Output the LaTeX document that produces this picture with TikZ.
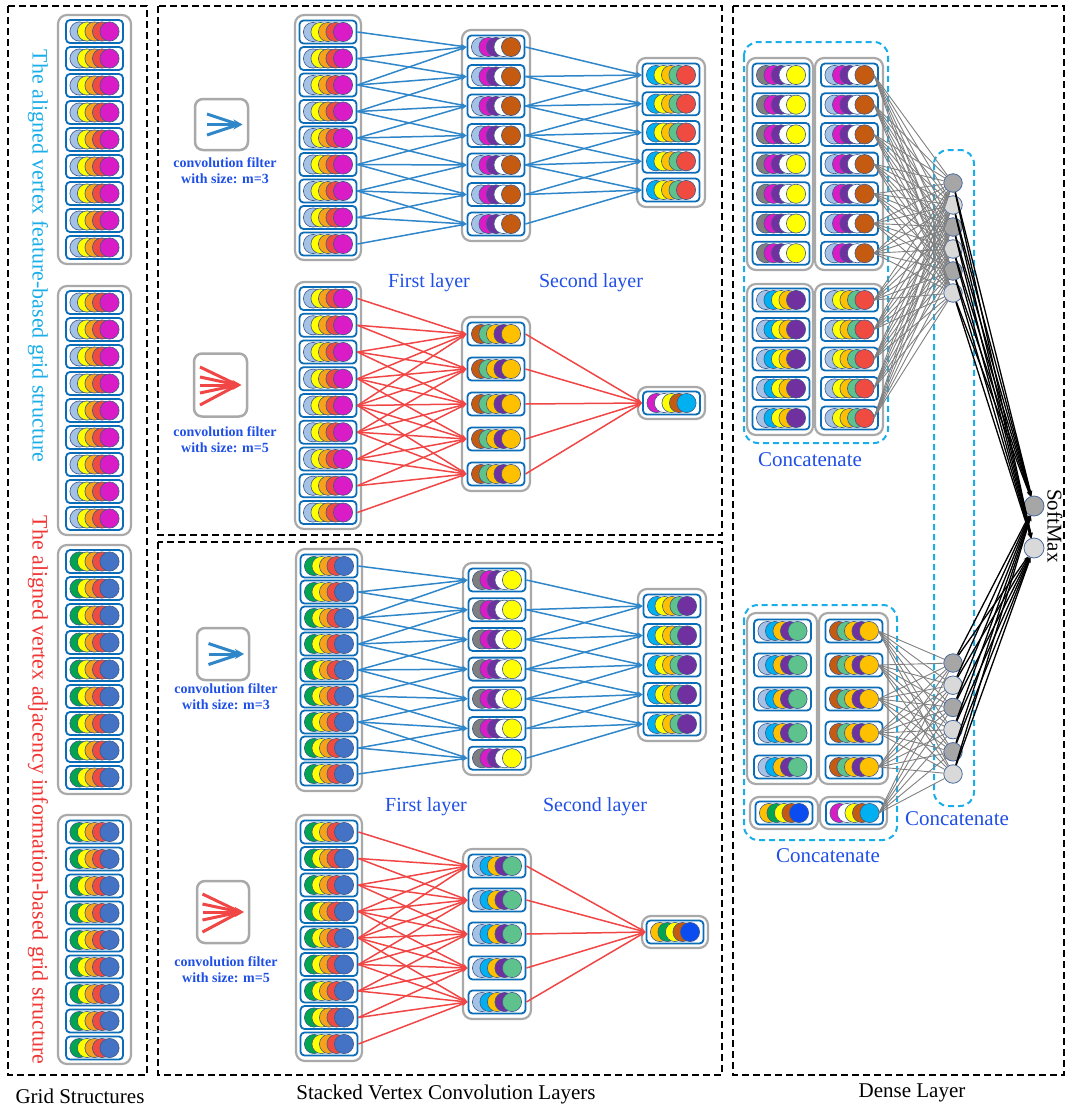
\documentclass[tikz,border=0pt]{standalone}
\usepackage{fontspec}
\setmainfont{Liberation Serif}
\usetikzlibrary{arrows.meta}
\definecolor{cellblue}{HTML}{0B6CB8}
\definecolor{grpgray}{HTML}{A9A9A9}
\definecolor{circedge}{HTML}{3D5A8A}
\definecolor{clb}{HTML}{A4C2E6}
\definecolor{cyel}{HTML}{FFFF00}
\definecolor{cora}{HTML}{F7A21B}
\definecolor{cred}{HTML}{F04B40}
\definecolor{cmag}{HTML}{D91CC6}
\definecolor{cgrn}{HTML}{00A550}
\definecolor{cblu}{HTML}{4472C4}
\definecolor{cpur}{HTML}{7030A0}
\definecolor{cbrn}{HTML}{C55A11}
\definecolor{csky}{HTML}{00B0F0}
\definecolor{cgold}{HTML}{FFC000}
\definecolor{cmint}{HTML}{5DC28B}
\definecolor{cdblu}{HTML}{0A4CF0}
\definecolor{cgry}{HTML}{7F7F7F}
\definecolor{cwht}{HTML}{FFFFFF}
\definecolor{lineblue}{HTML}{2F86C8}
\definecolor{linered}{HTML}{F04646}
\definecolor{txtblue}{HTML}{1F4FE6}
\definecolor{cyanc}{HTML}{1AAEE8}
\definecolor{txtred}{HTML}{F03535}
\definecolor{ndark}{HTML}{A6A6A6}
\definecolor{nlight}{HTML}{D9D9D9}
\definecolor{nedge}{HTML}{4A6A9E}
\tikzset{
 vcell/.style={draw=cellblue, fill=white, line width=1.8pt, rounded corners=4pt, minimum width=57pt, minimum height=23pt, inner sep=0pt},
 grp/.style={draw=grpgray, fill=white, line width=2.2pt, rounded corners=9pt, inner sep=0pt},
 panel/.style={draw=black, line width=2pt, dash pattern=on 7pt off 4pt},
 cdash/.style={draw=cyanc, line width=2pt, dash pattern=on 6pt off 4pt, rounded corners=14pt},
 bconn/.style={draw=lineblue, line width=1.5pt, -{Stealth[length=6pt,width=4.5pt]}},
 rconn/.style={draw=linered, line width=1.5pt, -{Stealth[length=6pt,width=4.5pt]}},
 gconn/.style={draw=black!50, line width=0.9pt},
 kconn/.style={draw=black, line width=1.3pt, -{Stealth[length=5pt,width=4pt]}},
 dnode/.style={circle, draw=nedge, line width=0.8pt, minimum size=18.5pt, inner sep=0pt},
 icon/.style={draw=grpgray, line width=2.5pt, rounded corners=8pt, fill=white, inner sep=0pt},
 ftxt/.style={text=txtblue, font=\bfseries\fontsize{14}{16}\selectfont, align=center},
 ltxt/.style={text=txtblue, font=\fontsize{20}{22}\selectfont},
 ctxt/.style={text=txtblue, font=\fontsize{21}{24}\selectfont},
 btxt/.style={font=\fontsize{21}{24}\selectfont},
 vtxt/.style={rotate=-90, font=\fontsize{22}{26}\selectfont},
}
\newcommand\VC[4]{%
  \node[vcell] (#1) at (#2,#3) {};
  \foreach \cc [count=\ii] in {#4} {
    \filldraw[fill=\cc, draw=circedge, line width=0.6pt] ({#2-15+7.5*(\ii-1)},{#3}) circle[radius=9.6pt];
  }%
}
\newcommand\Col[6]{%
  \foreach \k in {1,...,#5} {
    \pgfmathsetmacro\yy{#3+#4*(\k-1)}
    \VC{#1\k}{#2}{\yy}{#6}
  }%
}
\newcommand\GN[5]{%
  \node[grp, minimum width={#4-#2}, minimum height={#5-#3}] (#1) at ({(#2+#4)/2},{(#3+#5)/2}) {};
}
\newcommand\Conv[5]{%
  \foreach \j in {1,...,#3} {
    \foreach \t in {1,...,#4} {
      \pgfmathtruncatemacro\srcidx{\j+\t-1}
      \draw[#5] (#1\srcidx.east) -- (#2\j.west);
    }
  }%
}
\begin{document}
\begin{tikzpicture}[x=1pt,y=-1pt]
\useasboundingbox (0,0) rectangle (1068,1111);
% panels
\draw[panel] (8,6) rectangle (147,1075);
\draw[panel] (158,6) rectangle (722,535);
\draw[panel] (158,542) rectangle (722,1075);
\draw[panel] (733,6) rectangle (1064,1075);
\node[btxt] (lab1) at (80,1096) {Grid Structures};
\node[btxt] (lab2) at (446,1094) {Stacked Vertex Convolution Layers};
\node[btxt] (lab3) at (912,1093) {Dense Layer};
% left column
\node[vtxt, text=cyanc] (vt1) at (38,256) {The aligned vertex feature-based grid structure};
\node[vtxt, text=txtred] (vt2) at (38,790) {The aligned vertex adjacency information-based grid structure};
\GN{lg1}{58}{15}{131}{264}
\GN{lg2}{58}{286}{131}{535}
\GN{lg3}{58}{545}{131}{794}
\GN{lg4}{58}{815}{131}{1064}
\Col{la}{94.5}{31.5}{27}{9}{clb,cyel,cora,cred,cmag}
\Col{lb}{94.5}{302.5}{27}{9}{clb,cyel,cora,cred,cmag}
\Col{lc}{94.5}{561.5}{27}{9}{cgrn,cyel,cora,cred,cblu}
\Col{ld}{94.5}{832}{27}{9}{cgrn,cyel,cora,cred,cblu}
% ---------- middle top, blue
\node[icon, minimum width=53pt, minimum height=51pt] (ic1) at (221.5,124.5) {};
\draw[lineblue, line width=3pt] ([shift={(-14.5,-10.5)}]ic1.center) -- ([shift={(17,0)}]ic1.center);
\draw[lineblue, line width=3pt] ([shift={(-14.5,10.5)}]ic1.center) -- ([shift={(17,0)}]ic1.center);
\draw[lineblue, line width=3pt, -{Stealth[length=9pt,width=10pt]}] ([shift={(-14.5,0)}]ic1.center) -- ([shift={(21,0)}]ic1.center);
\node[ftxt] (ft1) at (225,171) {convolution filter\\with size: m=3};
\GN{tbig}{295}{15}{361}{260}
\GN{tbfg}{462}{30}{530}{241}
\GN{tbsg}{637}{58}{705}{207}
\Col{tbi}{328}{32}{26.5}{9}{clb,cyel,cora,cred,cmag}
\Col{tbf}{496}{47}{29.5}{7}{clb,cmag,cpur,cwht,cbrn}
\Col{tbs}{671}{75}{28.75}{5}{csky,cyel,cgold,cmint,cred}
\Conv{tbi}{tbf}{7}{3}{bconn}
\Conv{tbf}{tbs}{5}{3}{bconn}
\node[ltxt] (fl1) at (429,283) {First layer};
\node[ltxt] (sl1) at (591,283) {Second layer};
% ---------- middle top, red
\node[icon, minimum width=53pt, minimum height=63pt] (ic2) at (220.5,385) {};
\foreach \dy in {-18,-8,8,20}{
  \draw[linered, line width=3pt] ([shift={(-20.5,\dy)}]ic2.center) -- ([shift={(17,0)}]ic2.center);
}
\draw[linered, line width=3pt, -{Stealth[length=9pt,width=10pt]}] ([shift={(-20.5,0)}]ic2.center) -- ([shift={(21,0)}]ic2.center);
\node[ftxt] (ft2) at (225,440) {convolution filter\\with size: m=5};
\GN{trig}{295}{282}{361}{529}
\GN{trfg}{462}{317}{530}{491}
\GN{trog}{638}{387}{705}{419}
\Col{tri}{328}{298.5}{26.75}{9}{clb,cyel,cora,cred,cmag}
\Col{trf}{496}{334}{35}{5}{cbrn,cmint,cgold,cpur,cgold}
\Col{tro}{671.5}{403}{0}{1}{cmag,cwht,cyel,cbrn,csky}
\Conv{tri}{trf}{5}{5}{rconn}
\Conv{trf}{tro}{1}{5}{rconn}
% ---------- middle bottom, blue
\node[icon, minimum width=52pt, minimum height=52pt] (ic3) at (223,654) {};
\draw[lineblue, line width=3pt] ([shift={(-14.5,-10.5)}]ic3.center) -- ([shift={(17,0)}]ic3.center);
\draw[lineblue, line width=3pt] ([shift={(-14.5,10.5)}]ic3.center) -- ([shift={(17,0)}]ic3.center);
\draw[lineblue, line width=3pt, -{Stealth[length=9pt,width=10pt]}] ([shift={(-14.5,0)}]ic3.center) -- ([shift={(21,0)}]ic3.center);
\node[ftxt] (ft3) at (226,697) {convolution filter\\with size: m=3};
\GN{bbig}{296}{549}{362}{791}
\GN{bbfg}{463}{563}{531}{775}
\GN{bbsg}{638}{589}{706}{741}
\Col{bbi}{329}{566}{26}{9}{cgrn,cyel,cora,cred,cblu}
\Col{bbf}{497}{580}{29.7}{7}{cgry,cmag,cpur,cwht,cyel}
\Col{bbs}{672}{606}{29.5}{5}{csky,cyel,cgold,cmint,cpur}
\Conv{bbi}{bbf}{7}{3}{bconn}
\Conv{bbf}{bbs}{5}{3}{bconn}
\node[ltxt] (fl2) at (426,807) {First layer};
\node[ltxt] (sl2) at (595,807) {Second layer};
% ---------- middle bottom, red
\node[icon, minimum width=52pt, minimum height=62pt] (ic4) at (223,912) {};
\foreach \dy in {-18,-8,8,20}{
  \draw[linered, line width=3pt] ([shift={(-20.5,\dy)}]ic4.center) -- ([shift={(17,0)}]ic4.center);
}
\draw[linered, line width=3pt, -{Stealth[length=9pt,width=10pt]}] ([shift={(-20.5,0)}]ic4.center) -- ([shift={(21,0)}]ic4.center);
\node[ftxt] (ft4) at (226,970) {convolution filter\\with size: m=5};
\GN{brig}{296}{815}{362}{1061}
\GN{brfg}{463}{849}{531}{1019}
\GN{brog}{642}{916}{708}{948}
\Col{bri}{329}{832}{26.5}{9}{cgrn,cyel,cora,cred,cblu}
\Col{brf}{497}{866}{34}{5}{clb,csky,cgold,cpur,cmint}
\Col{bro}{675}{932}{0}{1}{cgold,cgrn,cyel,cbrn,cdblu}
\Conv{bri}{brf}{5}{5}{rconn}
\Conv{brf}{bro}{1}{5}{rconn}
% ---------- dense layer
\draw[cdash] (744,42) rectangle (888,443);
\draw[cdash] (744,605) rectangle (897,840);
\draw[cdash] (934,150) rectangle (974,806);
\node[ctxt] (cc1) at (810,460) {Concatenate};
\node[ctxt] (cc2) at (828,856) {Concatenate};
\node[ctxt] (cc3) at (957,819) {Concatenate};
\GN{dtlg}{747}{58}{813}{270}
\GN{dtrg}{815}{58}{883}{270}
\GN{dblg}{747}{284}{813}{435}
\GN{dbrg}{815}{284}{883}{435}
\Col{dtl}{781}{75}{29.7}{7}{cgry,cmag,cpur,cwht,cyel}
\Col{dtr}{849.5}{75}{29.7}{7}{clb,cmag,cpur,cwht,cbrn}
\Col{dbl}{781}{300}{29.5}{5}{clb,csky,cyel,cgold,cpur}
\Col{dbr}{849.5}{300}{29.5}{5}{clb,cyel,cgold,cmint,cred}
\GN{dlg}{747}{613}{817}{784}
\GN{drg}{819}{613}{888}{784}
\GN{dslg}{750}{797}{818}{829}
\GN{dsrg}{820}{797}{887}{829}
\Col{dl}{782.5}{631}{34}{5}{clb,csky,cgold,cpur,cmint}
\Col{dr}{854}{631}{34}{5}{cbrn,cmint,cgold,cpur,cgold}
\Col{dsl}{784}{813}{0}{1}{cgold,cgrn,cyel,cbrn,cdblu}
\Col{dsr}{854.5}{813}{0}{1}{cmag,cwht,cyel,cbrn,csky}
% dense nodes
\foreach \i in {1,...,6}{
  \pgfmathsetmacro\ty{183+22*(\i-1)}
  \pgfmathsetmacro\by{663+22.2*(\i-1)}
  \pgfmathtruncatemacro\odd{mod(\i,2)}
  \ifnum\odd=1 \def\nf{ndark}\else\def\nf{nlight}\fi
  \node[dnode, fill=\nf] (tn\i) at (953,\ty) {};
  \node[dnode, fill=\nf] (bn\i) at (953,\by) {};
}
\node[dnode, fill=ndark, minimum size=20pt] (s1) at (1034,506) {};
\node[dnode, fill=nlight, minimum size=20pt] (s2) at (1034,548) {};
\node[rotate=-90, font=\fontsize{21}{24}\selectfont] (smx) at (1055,526) {SoftMax};
% gray connections
\foreach \s in {dtr1,dtr2,dtr3,dtr4,dtr5,dtr6,dtr7,dbr1,dbr2,dbr3,dbr4,dbr5}{
  \foreach \n in {1,...,6}{ \draw[gconn] ([xshift=-5pt]\s.east) -- (tn\n); }
}
\foreach \s in {dr1,dr2,dr3,dr4,dr5,dsr1}{
  \foreach \n in {1,...,6}{ \draw[gconn] ([xshift=-5pt]\s.east) -- (bn\n); }
}
% black connections
\foreach \n in {tn1,tn2,tn3,tn4,tn5,tn6,bn1,bn2,bn3,bn4,bn5,bn6}{
  \draw[kconn] (\n) -- (s1);
  \draw[kconn] (\n) -- (s2);
}
\end{tikzpicture}
\end{document}
